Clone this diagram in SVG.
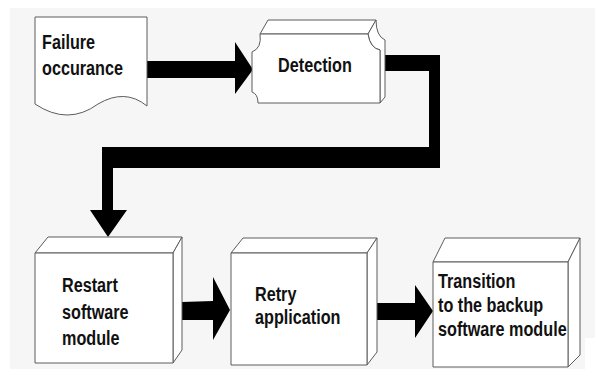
<svg xmlns="http://www.w3.org/2000/svg" width="595" height="369" viewBox="0 0 595 369">
  <style>
    .face { fill: #ffffff; stroke: #5c5c5c; stroke-width: 1; stroke-linejoin: round; }
    .flow { fill: #000000; stroke: none; }
    .label { font-family: "Liberation Sans", Arial, sans-serif; font-weight: bold; font-size: 20.5px; fill: #111111; }
  </style>

  <!-- page -->
  <rect x="0" y="0" width="595" height="369" fill="#ffffff"/>
  <rect x="10" y="8" width="585" height="361" fill="#f6f6f6"/>
  <rect x="585" y="338" width="10" height="31" fill="#ffffff"/>

  <!-- connectors -->
  <g id="connectors">
    <polygon class="flow" points="147,61 235,61 235,42 253,69.5 235,94 235,78 147,78"/>
    <polygon class="flow" points="385,55 440,55 440,168 113,168 113,210 127,210 108,237 90,210 102,210 102,147 429,147 429,71 385,71"/>
    <polygon class="flow" points="182,302 213,301 213,277 230,310 213,340 213,320 182,320"/>
    <polygon class="flow" points="376,303 415,303 415,285 433,311 415,338 415,320 376,320"/>
  </g>

  <!-- Failure occurance (document) -->
  <g id="failure">
    <path class="face" d="M35,17 H147 V106 Q125,88 98,104 Q68,126 35,104 Z"/>
    <text class="label" transform="translate(42,49) scale(0.79,1)">
      <tspan x="0" y="0">Failure</tspan>
      <tspan x="0" y="26">occurance</tspan>
    </text>
  </g>

  <!-- Detection -->
  <g id="detection">
    <path class="face" d="M260,34 L268,20 L376,20 L368,34 Z"/>
    <path class="face" d="M376,20 Q376,36 385,40 L385,97 L380,103 L380,50 Q370,48 368,34 Z"/>
    <path class="face" d="M260,34 L368,34 Q370,48 380,50 L380,103 L258,103 Q258,94 252,92 L252,52 Q262,48 260,34 Z"/>
    <text class="label" text-anchor="middle" transform="translate(315,72) scale(0.79,1)">Detection</text>
  </g>

  <!-- Restart software module -->
  <g id="restart">
    <polygon class="face" points="35,253 48,237 182,237 173,253"/>
    <polygon class="face" points="173,253 182,237 182,350 173,363"/>
    <rect class="face" x="35" y="253" width="138" height="110"/>
    <text class="label" transform="translate(62,292) scale(0.79,1)">
      <tspan x="0" y="0">Restart</tspan>
      <tspan x="0" y="27">software</tspan>
      <tspan x="0" y="53">module</tspan>
    </text>
  </g>

  <!-- Retry application -->
  <g id="retry">
    <polygon class="face" points="231,253 243,238 377,238 367,253"/>
    <polygon class="face" points="367,253 377,238 377,352 367,365"/>
    <rect class="face" x="231" y="253" width="136" height="112"/>
    <text class="label" transform="translate(255,301) scale(0.79,1)">
      <tspan x="0" y="0">Retry</tspan>
      <tspan x="0" y="23">application</tspan>
    </text>
  </g>

  <!-- Transition to the backup software module -->
  <g id="transition">
    <polygon class="face" points="433,262 445,238 580,238 568,262"/>
    <polygon class="face" points="568,262 580,238 580,355 568,367"/>
    <rect class="face" x="433" y="262" width="135" height="105"/>
    <text class="label" transform="translate(438,288) scale(0.79,1)">
      <tspan x="0" y="0">Transition</tspan>
      <tspan x="0" y="24">to the backup</tspan>
      <tspan x="0" y="48">software module</tspan>
    </text>
  </g>
</svg>
